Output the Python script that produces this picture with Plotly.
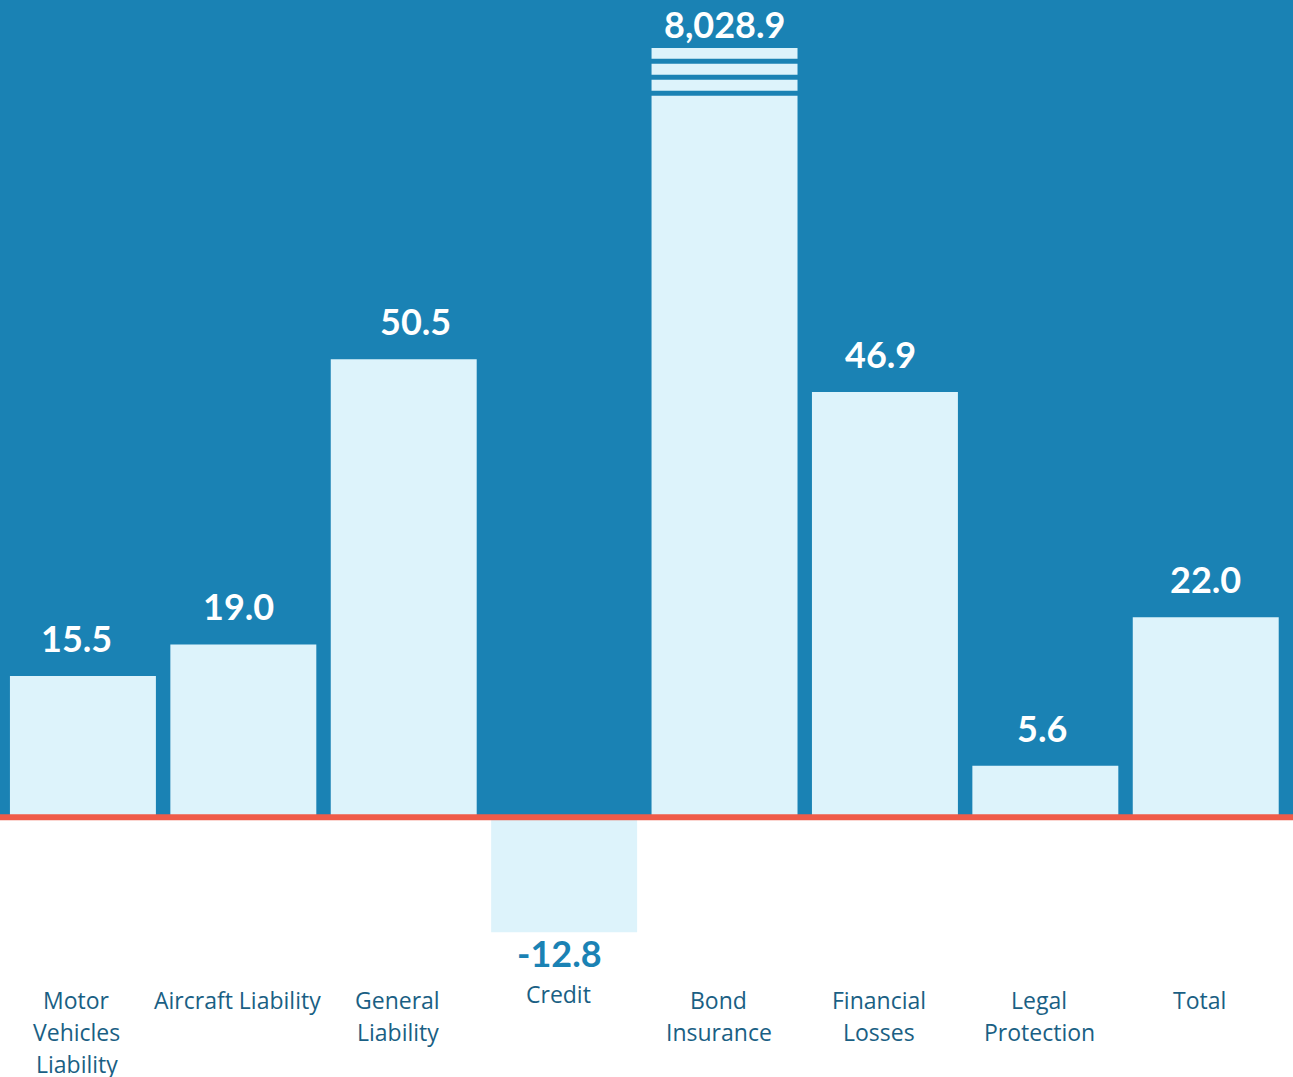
import plotly.graph_objects as go

categories = ["Motor Vehicles Liability", "Aircraft Liability", "General Liability", "Credit",
              "Bond Insurance", "Financial Losses", "Legal Protection", "Total"]
tick_labels = [["Motor", "Vehicles", "Liability"], ["Aircraft Liability"], ["General", "Liability"],
               ["Credit"], ["Bond", "Insurance"], ["Financial", "Losses"], ["Legal", "Protection"],
               ["Total"]]
values = [15.5, 19.0, 50.5, -12.8, 8028.9, 46.9, 5.6, 22.0]

# display cap for the broken (out of scale) bar
CAP = 84.9
display_values = [min(v, CAP) for v in values]

BLUE = "#1a82b4"
BAR = "#ddf3fb"
RED = "#ef5b49"
TEXT = "#1a5f84"

Y_MIN, Y_MAX = -28.8, 90.2
H = 1077
LABEL_DX = [-6, -5, 12, -5, 0, -4, -3, 0]

fig = go.Figure()
fig.add_trace(go.Bar(
    x=list(range(len(categories))), y=display_values,
    marker=dict(color=BAR, line=dict(width=0)),
    hoverinfo="skip", showlegend=False,
))

shapes = [
    dict(type="rect", xref="paper", yref="y", x0=0, x1=1, y0=0, y1=Y_MAX,
         fillcolor=BLUE, line=dict(width=0), layer="below"),
    dict(type="line", xref="paper", yref="y", x0=0, x1=1, y0=-0.1, y1=-0.1,
         line=dict(color=RED, width=6), layer="above"),
]
# break stripes on the out-of-scale bar
for i, v in enumerate(values):
    if v > CAP:
        for k in range(3):
            top = CAP - 1.2 - k * 1.77
            shapes.append(dict(type="rect", xref="x", yref="y", x0=i - 0.46, x1=i + 0.46,
                               y0=top - 0.55, y1=top, fillcolor=BLUE, line=dict(width=0),
                               layer="above"))

annotations = []
for i, (v, dv) in enumerate(zip(values, display_values)):
    txt = f"{v:,.1f}"
    if v > CAP:
        annotations.append(dict(x=i, y=dv, xref="x", yref="y", text=f"<b>{txt}</b>",
                                showarrow=False, yanchor="bottom", yshift=0, xshift=LABEL_DX[i],
                                font=dict(family="Lato", size=36, color="white")))
    elif v >= 0:
        annotations.append(dict(x=i, y=dv, xref="x", yref="y", text=f"<b>{txt}</b>",
                                showarrow=False, yanchor="bottom", yshift=14, xshift=LABEL_DX[i],
                                font=dict(family="Lato", size=36, color="white")))
    else:
        annotations.append(dict(x=i, y=dv, xref="x", yref="y", text=f"<b>{txt}</b>",
                                showarrow=False, yanchor="top", yshift=3, xshift=LABEL_DX[i],
                                font=dict(family="Lato", size=36, color=BLUE)))

for i, (v, lines) in enumerate(zip(values, tick_labels)):
    first = 1000 if v >= 0 else 994
    for j, line in enumerate(lines):
        ypx = first + 32 * j
        annotations.append(dict(x=i, y=1 - ypx / H, xref="x", yref="paper", text=line,
                                showarrow=False, yanchor="middle", xshift=-6,
                                font=dict(family="Open Sans", size=23, color=TEXT)))

fig.update_layout(
    width=1293, height=H,
    margin=dict(l=0, r=0, t=0, b=0),
    paper_bgcolor="white", plot_bgcolor="white",
    bargap=0.09,
    xaxis=dict(range=[-0.517, 7.544], showticklabels=False, showgrid=False, zeroline=False,
               fixedrange=True),
    yaxis=dict(range=[Y_MIN, Y_MAX], showticklabels=False, showgrid=False, zeroline=False,
               fixedrange=True),
    shapes=shapes, annotations=annotations,
)

fig.write_html("out.html", config={"displayModeBar": False},
               post_script="document.body.style.margin='0';document.body.style.overflow='hidden';")
